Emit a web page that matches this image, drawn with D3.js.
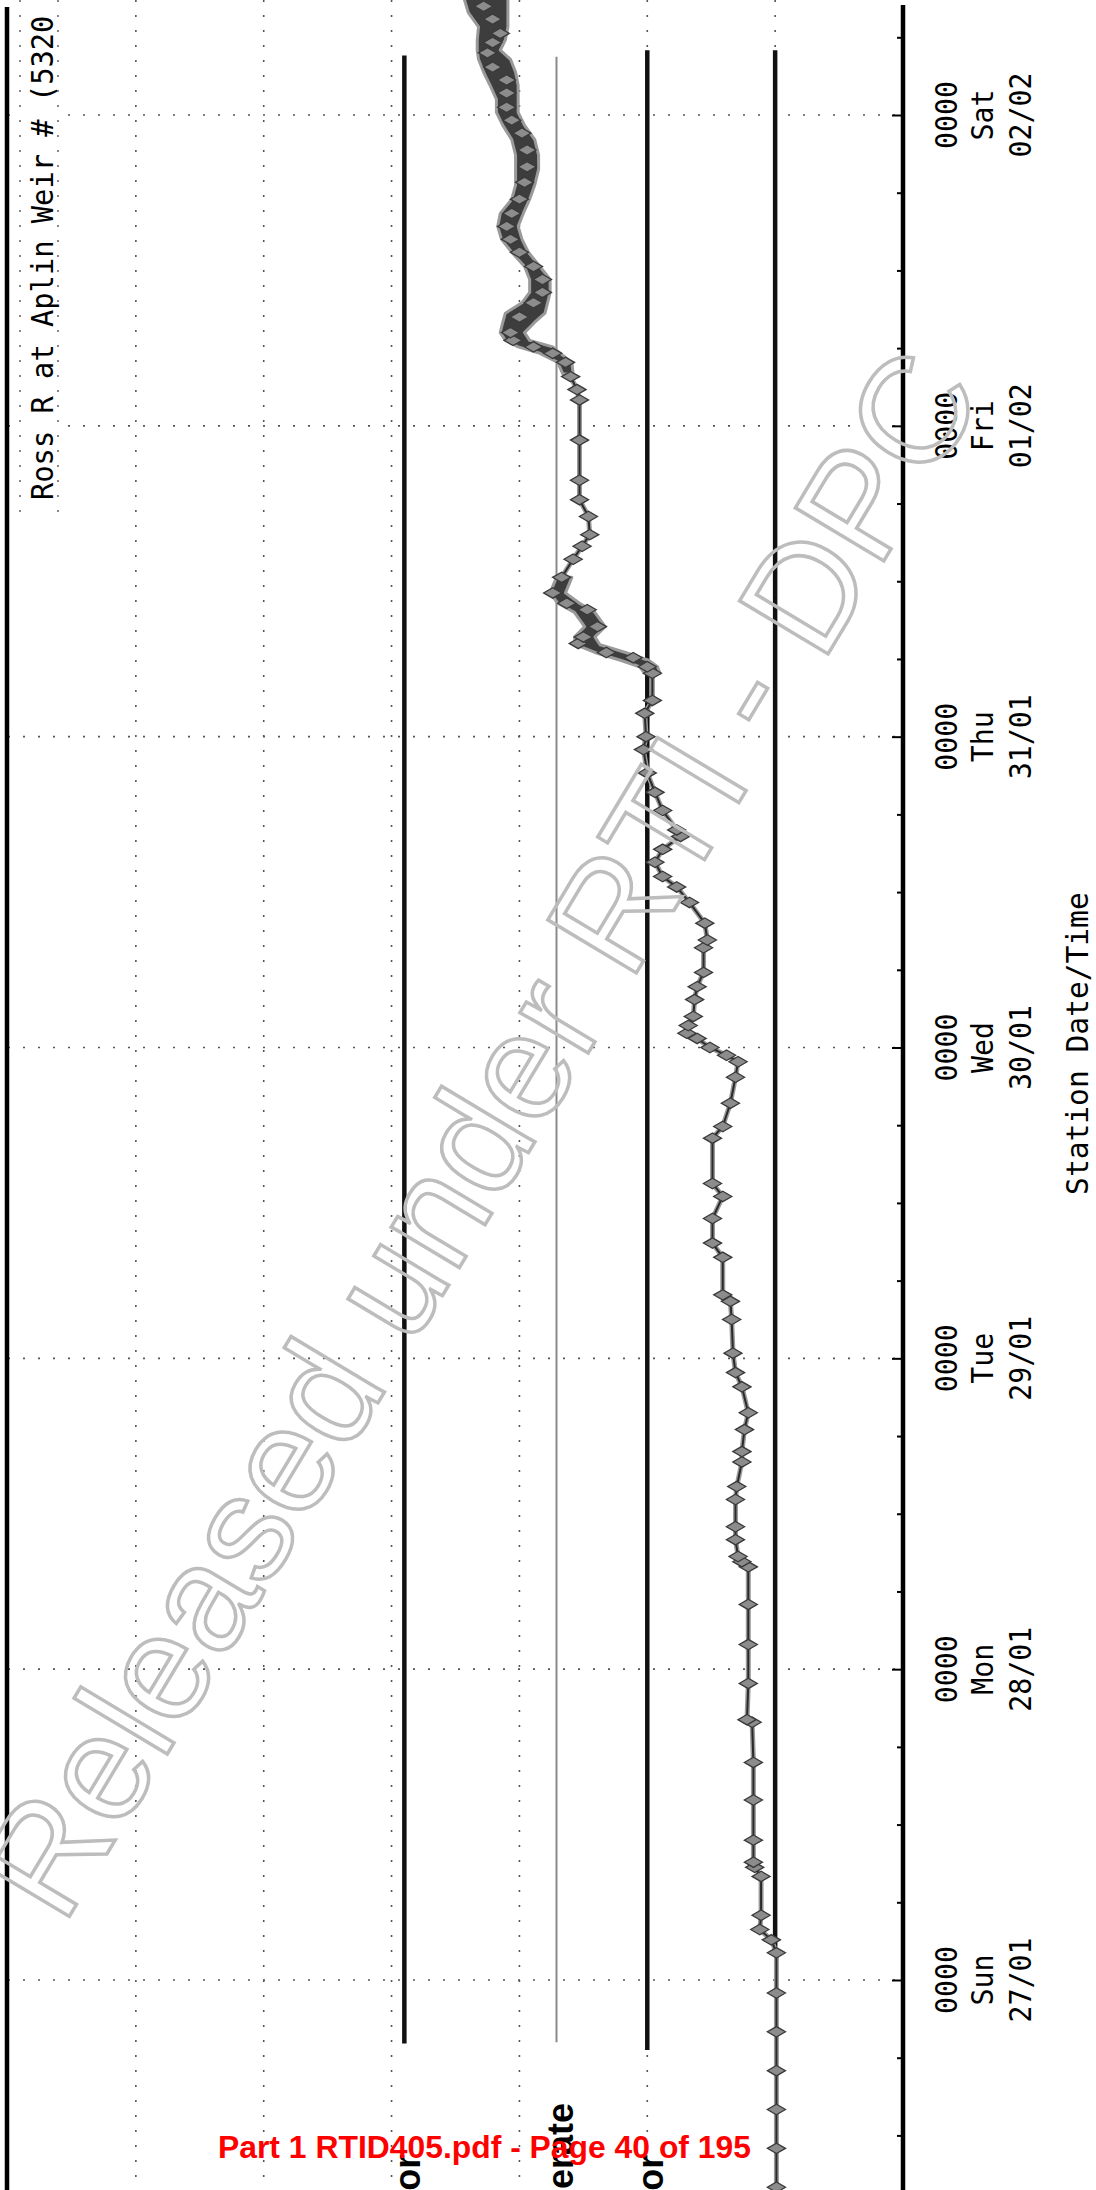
<!DOCTYPE html>
<html>
<head>
<meta charset="utf-8">
<script src="https://cdn.jsdelivr.net/npm/d3@7"></script>
<style>
  body { margin: 0; background: #fff; }
  svg { display: block; }
  .mono { font-family: "DejaVu Sans Mono", monospace; fill: #000; }
</style>
</head>
<body>
<script>
// ---- values ----
var dayStarts = ["2019-01-27", "2019-01-28", "2019-01-29", "2019-01-30", "2019-01-31", "2019-02-01", "2019-02-02"];
var dayNames = ["Sun", "Mon", "Tue", "Wed", "Thu", "Fri", "Sat"];
var dayLabels = ["27/01", "28/01", "29/01", "30/01", "31/01", "01/02", "02/02"];
var timeLabel = "0000";

// hours after 0000 Sun 27/01, river level
var hours = [-16, -13, -10, -7, -4, -1, 2.1, 3.1, 3.9, 5.0, 8.0, 8.7, 9.1, 10.8, 13.9, 16.8, 19.9, 20.1,
  22.9, 25.9, 29.0, 31.9, 32.3, 32.7, 34.0, 35.0, 37.1, 38.1, 40.0, 40.8, 42.5, 43.8, 45.8, 46.9,
  48.4, 51.0, 52.4, 52.9, 55.8, 56.9, 58.8, 60.5, 61.5, 65.0, 65.9, 67.7, 69.7, 70.9, 71.4, 72.0,
  72.7, 73.1, 73.7, 74.4, 75.7, 76.7, 77.8, 79.7, 80.3, 81.6, 83.2, 84.4, 85.2, 86.3, 87.3, 88.3,
  88.8, 90.3, 91.7, 93.2, 95.0, 96.0, 97.8, 98.8, 100.9, 101.4, 102.1, 102.5, 103.2, 103.7, 104.5,
  105.8, 106.3, 107.1, 108.3, 109.7, 110.7, 111.6, 113.0, 114.3, 115.8, 118.9, 122.0, 122.8, 123.8,
  124.9, 125.6, 126.1, 126.6, 127.2, 128.4, 129.5, 130.3, 131.3, 132.3, 133.4, 134.4, 135.4, 136.4,
  137.5, 138.8, 140.0, 141.3, 142.6, 143.6, 144.6, 145.7, 146.7, 147.7, 148.8, 149.6, 150.3, 151.4,
  152.4, 153.5];
var levels = [0.99, 0.99, 0.99, 0.99, 0.99, 0.99, 0.99, 1.03, 1.12, 1.11, 1.11, 1.16, 1.17, 1.17, 1.17, 1.17, 1.18, 1.22,
  1.21, 1.21, 1.21, 1.21, 1.26, 1.29, 1.31, 1.31, 1.31, 1.30, 1.26, 1.26, 1.24, 1.21, 1.26, 1.31,
  1.33, 1.34, 1.35, 1.41, 1.41, 1.49, 1.49, 1.41, 1.49, 1.49, 1.41, 1.35, 1.31, 1.29, 1.38, 1.51,
  1.61, 1.69, 1.68, 1.64, 1.63, 1.61, 1.56, 1.56, 1.53, 1.55, 1.67, 1.77, 1.88, 1.94, 1.88, 1.74,
  1.77, 1.88, 1.94, 2.00, 2.03, 2.01, 2.02, 1.96, 1.96, 2.00, 2.11, 2.32, 2.54, 2.50, 2.39,
  2.47, 2.63, 2.74, 2.67, 2.58, 2.51, 2.45, 2.46, 2.53, 2.53, 2.53, 2.53, 2.55, 2.60,
  2.64, 2.74, 2.89, 3.05, 3.07, 3.00, 2.89, 2.82, 2.82, 2.89, 3.00, 3.07, 3.10, 3.06,
  3.00, 2.96, 2.94, 2.94, 2.98, 3.06, 3.10, 3.10, 3.10, 3.21, 3.25, 3.21, 3.15, 3.21,
  3.28, 3.30];

// spread of the dense readings (low / high edge of the smeared band)
var bandHours = [100.9, 101.4, 101.9, 102.5, 103.1, 103.7, 104.5, 105.6, 106.3, 107.1, 108.3];
var bandLow = [1.90, 1.92, 1.99, 2.17, 2.37, 2.41, 2.33, 2.41, 2.53, 2.64, 2.59];
var bandHigh = [2.02, 2.06, 2.21, 2.41, 2.56, 2.57, 2.49, 2.57, 2.70, 2.76, 2.71];
var topBandHours = [124.0, 124.9, 125.6, 126.1, 126.6, 127.2, 128.0, 128.7, 129.5, 130.3, 131.3, 132.3,
  133.4, 134.4, 135.4, 136.4, 137.5, 138.6, 139.8, 140.9, 142.1, 143.2, 144.2, 145.2, 146.3, 147.3,
  148.3, 149.0, 149.8, 150.8, 151.9, 152.9, 154.0];
var topBandLow = [2.58, 2.59, 2.68, 2.74, 2.92, 2.96, 2.88, 2.80, 2.78, 2.76, 2.76, 2.84,
  2.93, 2.98, 3.01, 2.97, 2.92, 2.88, 2.85, 2.85, 2.88, 2.96, 3.01, 3.01, 3.01, 3.03,
  3.07, 3.15, 3.11, 3.09, 3.09, 3.09, 3.09];
var topBandHigh = [2.66, 2.70, 2.84, 3.01, 3.11, 3.15, 3.13, 3.11, 2.98, 2.92, 2.92, 2.96,
  3.06, 3.14, 3.17, 3.15, 3.06, 3.03, 3.03, 3.03, 3.06, 3.13, 3.18, 3.18, 3.23, 3.28,
  3.32, 3.33, 3.33, 3.32, 3.40, 3.43, 3.43];

var thresholdNames = ["Major", "Moderate", "Minor", ""];
var thresholdLevels = [3.90, 2.71, 2.00, 1.00];
var thresholdFrom = [-4.9, -4.8, -5.4, 2.5];
var thresholdTo = [148.6, 148.5, 149.0, 149.0];
var thresholdLabelEnd = [-13.5, -9.5, -13.5, 0];   // hour where each (cut-off) label ends

var gridLevels = [1, 2, 3, 4, 5, 6];

var title = "Ross R at Aplin Weir # (5320";
var axisTitle = "Station Date/Time";
var watermark = "Released under RTI - DPC";
var footer = "Part 1 RTID405.pdf - Page 40 of 195";

// ---- page ----
var W = 1096, H = 2190;
var parseDay = d3.timeParse("%Y-%m-%d");
var days = dayStarts.map(parseDay);
var t0 = days[0];
function at(h) { return new Date(t0.getTime() + h * 3600e3); }

var svg = d3.select("body").append("svg")
    .attr("width", W)
    .attr("height", H);
svg.append("rect").attr("width", W).attr("height", H).attr("fill", "#fff");

// chart is turned on its side: time runs up the page, level runs right to left
var y = d3.scaleTime().domain([days[0], days[6]]).range([1980, 115]);
var x = d3.scaleLinear().domain([0, 7]).range([903, 8]);

// dotted grid
svg.append("g").selectAll("line.v")
    .data(gridLevels)
    .enter().append("line")
    .attr("x1", function (d) { return x(d); })
    .attr("x2", function (d) { return x(d); })
    .attr("y1", 0).attr("y2", H)
    .attr("stroke", "#555").attr("stroke-width", 1.6)
    .attr("stroke-dasharray", "2,13");
svg.append("g").selectAll("line.h")
    .data(days)
    .enter().append("line")
    .attr("x1", x(7)).attr("x2", x(0))
    .attr("y1", function (d) { return y(d); })
    .attr("y2", function (d) { return y(d); })
    .attr("stroke", "#555").attr("stroke-width", 1.6)
    .attr("stroke-dasharray", "2,13");

// threshold lines
var thr = thresholdLevels.map(function (v, i) {
    return { name: thresholdNames[i], v: v, from: at(thresholdFrom[i]), to: at(thresholdTo[i]),
             end: at(thresholdLabelEnd[i]), i: i };
});
svg.append("g").selectAll("line")
    .data(thr)
    .enter().append("line")
    .attr("x1", function (d) { return x(d.v); })
    .attr("x2", function (d) { return x(d.v); })
    .attr("y1", function (d) { return y(d.from); })
    .attr("y2", function (d) { return y(d.to); })
    .attr("stroke", function (d) { return d.i == 1 ? "#8a8a8a" : "#111"; })
    .attr("stroke-width", function (d) { return d.i == 1 ? 2 : 4.5; });

svg.append("g").selectAll("text")
    .data(thr.filter(function (d) { return d.name; }))
    .enter().append("text")
    .attr("transform", function (d) { return "translate(" + (x(d.v) + 16) + "," + y(d.end) + ") rotate(-90)"; })
    .attr("text-anchor", "end")
    .attr("font-family", "Liberation Sans, Arial, sans-serif")
    .attr("font-weight", "bold")
    .attr("font-size", 36)
    .attr("fill", "#000")
    .text(function (d) { return d.name; });

// left frame
svg.append("line")
    .attr("x1", x(7) - 1).attr("x2", x(7) - 1)
    .attr("y1", 7).attr("y2", H)
    .attr("stroke", "#000").attr("stroke-width", 4.5);

// title box
svg.append("rect")
    .attr("x", 10).attr("y", 0).attr("width", 48).attr("height", 515)
    .attr("fill", "#fff");
[20, 58].forEach(function (px) {
    svg.append("line")
        .attr("x1", px).attr("x2", px).attr("y1", 0).attr("y2", 515)
        .attr("stroke", "#555").attr("stroke-width", 1.4)
        .attr("stroke-dasharray", "2,13");
});
svg.append("text")
    .attr("class", "mono")
    .attr("transform", "translate(53,500) rotate(-90)")
    .attr("font-size", 31)
    .attr("textLength", title.length * 17.3)
    .attr("lengthAdjust", "spacingAndGlyphs")
    .text(title);

// time axis
var axisG = svg.append("g").attr("transform", "translate(" + x(0) + ",0)");
var sixHours = d3.timeHour.every(6).range(at(-18), at(156));
axisG.call(d3.axisLeft(y).tickValues(sixHours).tickFormat("").tickSizeOuter(0).tickSizeInner(6));
axisG.select(".domain").remove();
axisG.selectAll(".tick line")
    .attr("stroke", "#000")
    .attr("stroke-width", 2)
    .attr("x2", function (d) { return d.getHours() == 0 ? -11 : -6; });
axisG.append("line")
    .attr("x1", 0).attr("x2", 0)
    .attr("y1", y(at(-17))).attr("y2", y(at(152.5)))
    .attr("stroke", "#000").attr("stroke-width", 4.5);

var labelG = svg.append("g").selectAll("g")
    .data(days)
    .enter().append("g");
[957, 993, 1031].forEach(function (px, r) {
    function txt(d, i) { return r == 0 ? timeLabel : (r == 1 ? dayNames[i] : dayLabels[i]); }
    labelG.append("text")
        .attr("class", "mono")
        .attr("transform", function (d) { return "translate(" + px + "," + y(d) + ") rotate(-90)"; })
        .attr("text-anchor", "middle")
        .attr("font-size", 30)
        .attr("lengthAdjust", "spacingAndGlyphs")
        .attr("textLength", function (d, i) { return txt(d, i).length * 17; })
        .text(txt);
});

svg.append("text")
    .attr("class", "mono")
    .attr("transform", "translate(1088," + y(at(72.3)) + ") rotate(-90)")
    .attr("text-anchor", "middle")
    .attr("font-size", 31)
    .attr("textLength", axisTitle.length * 17.8)
    .attr("lengthAdjust", "spacingAndGlyphs")
    .text(axisTitle);

// series
var series = hours.map(function (h, i) { return { t: at(h), v: levels[i] }; });
function bandData(hs, lo, hi) {
    return hs.map(function (h, i) { return { t: at(h), lo: lo[i], hi: hi[i] }; });
}
var area = d3.area()
    .y(function (d) { return y(d.t); })
    .x0(function (d) { return x(d.lo); })
    .x1(function (d) { return x(d.hi); });
var line = d3.line()
    .x(function (d) { return x(d.v); })
    .y(function (d) { return y(d.t); });

svg.append("path").datum(series)
    .attr("d", line).attr("fill", "none")
    .attr("stroke", "#9a9a9a").attr("stroke-width", 5);
svg.append("path").datum(series)
    .attr("d", line).attr("fill", "none")
    .attr("stroke", "#2a2a2a").attr("stroke-width", 2);

[bandData(bandHours, bandLow, bandHigh), bandData(topBandHours, topBandLow, topBandHigh)].forEach(function (b) {
    svg.append("path").datum(b)
        .attr("d", area)
        .attr("fill", "#3d3d3d")
        .attr("stroke", "#9a9a9a")
        .attr("stroke-width", 3)
        .attr("stroke-linejoin", "round");
});

var diamond = d3.symbol().type(d3.symbolDiamond).size(95);
svg.append("g").selectAll("path")
    .data(series)
    .enter().append("path")
    .attr("d", diamond)
    .attr("transform", function (d) { return "translate(" + x(d.v) + "," + y(d.t) + ") rotate(90)"; })
    .attr("fill", "#8c8c8c")
    .attr("stroke", "#3a3a3a")
    .attr("stroke-width", 1.3);

// watermark and page stamp
svg.append("text")
    .attr("transform", "translate(524,1160) rotate(-59)")
    .attr("text-anchor", "middle")
    .attr("font-family", "Liberation Sans, Arial, sans-serif")
    .attr("font-size", 150)
    .attr("fill", "none")
    .attr("stroke", "#bdbdbd")
    .attr("stroke-width", 3.5)
    .text(watermark);

svg.append("text")
    .attr("x", 218).attr("y", 2158)
    .attr("font-family", "Liberation Sans, Arial, sans-serif")
    .attr("font-weight", "bold")
    .attr("font-size", 31)
    .attr("textLength", 533)
    .attr("lengthAdjust", "spacingAndGlyphs")
    .attr("fill", "#ff0000")
    .attr("stroke", "none")
    .text(footer);
</script>
</body>
</html>
